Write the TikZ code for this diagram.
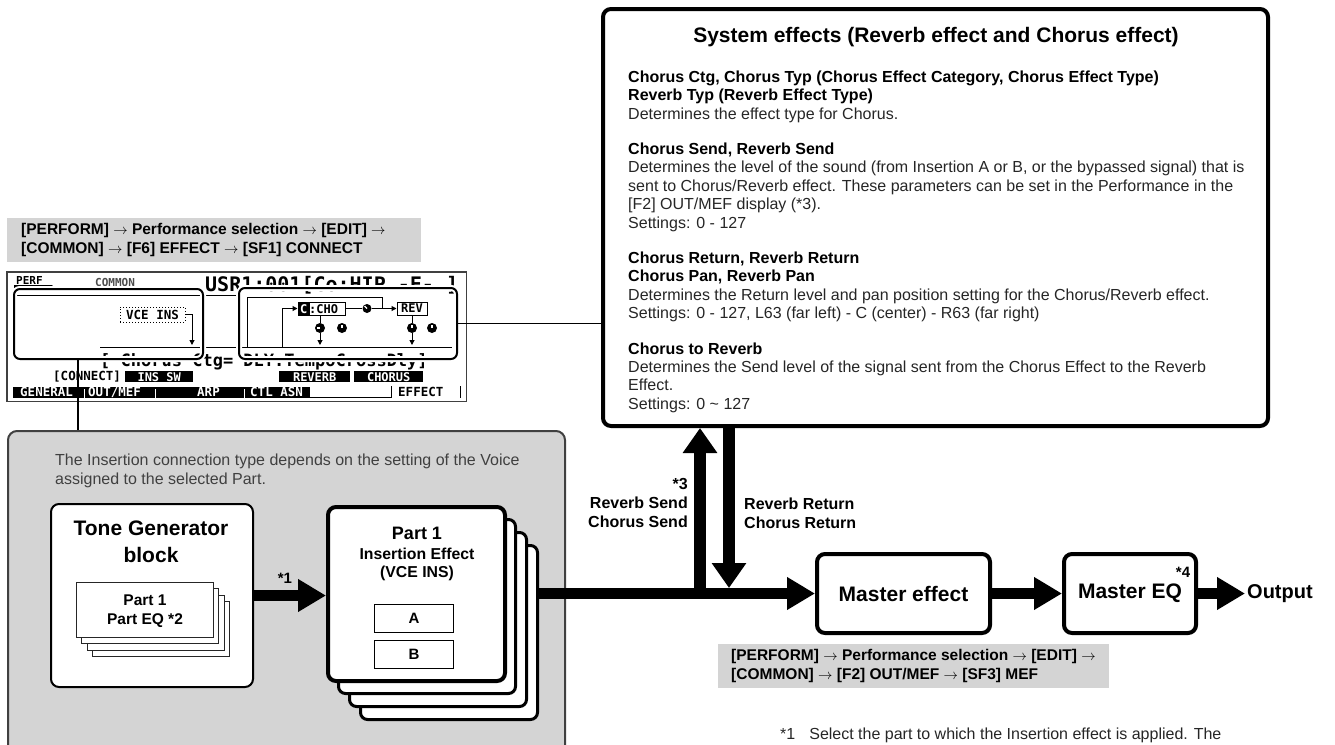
\documentclass[tikz,border=0pt]{standalone}
\usepackage{fontspec}
\setmainfont{Liberation Sans}
\setsansfont{Liberation Sans}
\newfontfamily\lcdfont{DejaVu Sans Mono}
\usetikzlibrary{arrows.meta,positioning,calc}

\newcommand\setfs[2]{\fontsize{#1}{#2}\selectfont}
\newcommand\hd[1]{\textbf{\textcolor{black}{#1}}}

\begin{document}
\begin{tikzpicture}[x=1pt, y=-1pt,
  font=\sffamily,
  lbl/.style={inner sep=0pt, anchor=base},
  graybar/.style={fill=black!17, inner sep=0pt, minimum height=44pt, anchor=north west},
  bartext/.style={inner sep=0pt, anchor=north west, align=left, font=\setfs{15.5}{19}\bfseries},
  fxbox/.style={draw, line width=4pt, rounded corners=8pt, fill=white, anchor=north west,
                minimum height=79pt, font=\setfs{21}{24}\bfseries},
  insback/.style={draw, line width=3pt, rounded corners=7pt, fill=white, anchor=north west,
                  minimum width=177pt, minimum height=174pt},
  eqcard/.style={draw=black!85, line width=1pt, fill=white, anchor=north west,
                 minimum width=137pt, minimum height=55pt},
  abox/.style={draw, line width=1.3pt, anchor=north west, minimum width=78.7pt, minimum height=27.7pt,
               font=\setfs{15}{18}\bfseries},
  fat/.style={line width=11pt, -{Triangle[length=28pt, width=31pt]}},
  fatv/.style={line width=12pt, -{Triangle[length=25pt, width=33pt]}},
  link/.style={line width=1.5pt},
  lcdsel/.style={draw, line width=2pt, rounded corners=6pt, anchor=north west,
                 preaction={draw=white, line width=6pt}},
  lcdtxt/.style={inner sep=0pt, anchor=base west, font=\lcdfont\bfseries\setfs{12.5}{14}},
  lcdinv/.style={fill=black, text=white, inner sep=0pt, anchor=north west,
                 minimum height=11pt, font=\lcdfont\bfseries\setfs{12}{13}},
  lcdarr/.style={line width=1pt, -{Triangle[length=5pt, width=5pt]}},
  knob/.style={circle, fill=black, inner sep=0pt, minimum size=10pt}
]
\useasboundingbox (0,0) rectangle (1335,744);
\clip (0,0) rectangle (1335,744);

\node[graybar, minimum width=414pt] (pathtop) at (7,218) {};
\node[bartext] at (21,221) {\rule{0pt}{13pt}[PERFORM] $\rightarrow$ Performance selection $\rightarrow$ [EDIT] $\rightarrow$\\{}[COMMON] $\rightarrow$ [F6] EFFECT $\rightarrow$ [SF1] CONNECT};

\node[draw=black!75, line width=2pt, rounded corners=9pt, fill=black!17, anchor=north west,
      minimum width=557pt, minimum height=340pt] (gbox) at (7,430) {};
\node[inner sep=0pt, anchor=north west, align=left, text=black!75, font=\setfs{16}{19.5}] at (55,452)
  {\rule{0pt}{13pt}The Insertion connection type depends on the setting of the Voice\\assigned to the selected Part.};

\node[draw, line width=4pt, rounded corners=8pt, fill=white, anchor=north west,
      minimum width=665pt, minimum height=417pt] (sys) at (601,7) {};
\node[lbl, font=\setfs{21}{24}\bfseries] at (936,42) {System effects (Reverb effect and Chorus effect)};
\node[inner sep=0pt, anchor=north west, align=left, text=black!85, font=\setfs{16}{18.4}] at (628,69)
  {\rule{0pt}{13pt}\hd{Chorus Ctg, Chorus Typ (Chorus Effect Category, Chorus Effect Type)}\\
   \hd{Reverb Typ (Reverb Effect Type)}\\
   Determines the effect type for Chorus.\\[17pt]
   \hd{Chorus Send, Reverb Send}\\
   Determines the level of the sound (from Insertion A or B, or the bypassed signal) that is\\
   sent to Chorus/Reverb effect. These parameters can be set in the Performance in the\\{}[F2] OUT/MEF display (*3).\\
   Settings: 0 - 127\\[17pt]
   \hd{Chorus Return, Reverb Return}\\
   \hd{Chorus Pan, Reverb Pan}\\
   Determines the Return level and pan position setting for the Chorus/Reverb effect.\\
   Settings: 0 - 127, L63 (far left) - C (center) - R63 (far right)\\[17pt]
   \hd{Chorus to Reverb}\\
   Determines the Send level of the signal sent from the Chorus Effect to the Reverb\\
   Effect.\\
   Settings: 0 \textasciitilde{} 127};

\node[draw=black!75, line width=1.5pt, fill=white, anchor=north west,
      minimum width=459.5pt, minimum height=129.5pt] (lcd) at (6,271) {};
\fill (14,285) -- (52,285) -- (58,291) -- (14,291) -- cycle;
\node[lcdtxt, font=\lcdfont\bfseries\setfs{11}{12}] at (16,284) {PERF};
\node[lcdtxt, text=black!70, font=\lcdfont\bfseries\setfs{11}{12}] at (95,286) {COMMON};
\node[lcdtxt, font=\lcdfont\bfseries\setfs{20}{22}] at (205,291) {USR1:001[Co:HIP -F- ]};
\draw[line width=1pt] (14,295) -- (236,295);
\node[lcdtxt, font=\lcdfont\bfseries\setfs{17}{19}] at (100,366) {[ Chorus  Ctg=   DLY:TempoCrossDly]};
\node[draw, dotted, line width=1pt, inner sep=0pt, minimum width=65pt, minimum height=15pt,
      font=\lcdfont\bfseries\setfs{12.5}{14}] (vce) at (152.5,314.5) {VCE INS};
\coordinate (vcedn) at (192,345);
\draw[lcdarr] (vce.east) -| (vcedn);
\draw[line width=1pt] (100,347) -- (452,347);

\node[draw, line width=1pt, inner sep=0pt, minimum width=47pt, minimum height=13pt] (cho) at (321.5,308.5) {};
\fill (cho.north west) rectangle ++(12,13);
\node[lcdtxt, text=white, font=\lcdfont\bfseries\setfs{12}{13}] at (300,313) {C};
\node[lcdtxt, font=\lcdfont\bfseries\setfs{12}{13}] at (309,313) {:CHO};
\node[draw, line width=1pt, inner sep=0pt, minimum width=30pt, minimum height=13pt,
      font=\lcdfont\bfseries\setfs{12}{13}] (rev) at (412,308.5) {REV};
\node[knob, minimum size=9pt] (k0) at (367,308.5) {};
\node[knob] (kc1) at (320,328) {};
\node[knob] (kc2) at (342,328) {};
\node[knob] (kr1) at (412,328) {};
\node[knob] (kr2) at (432,328) {};
\foreach \kn/\ang in {k0/225, kc1/180, kc2/270, kr1/270, kr2/270}
  \draw[white, line width=1.2pt] (\kn.center) -- ++(\ang:3.5);
\draw[line width=1pt] (cho.east) -- (k0);
\draw[lcdarr] (k0) -- (rev.west);
\draw[line width=1pt] (247,347) |- (382,297) -- (382,308.5);
\draw[lcdarr] (282,347) |- (cho.west);
\draw[line width=1pt] (kc1 |- cho.south) -- (kc1);
\draw[lcdarr] (kc1) -- (kc1 |- vcedn);
\draw[line width=1pt] (rev.south) -- (kr1);
\draw[lcdarr] (kr1) -- (kr1 |- vcedn);

\node[lcdtxt] at (53,380) {[CONNECT]};
\node[lcdinv, minimum width=68pt] at (125,371) {INS SW};
\node[lcdinv, minimum width=71pt] at (279,371) {REVERB};
\node[lcdinv, minimum width=69pt] at (354,371) {CHORUS};
\fill (13,387) rectangle (310,398);
\foreach \tx/\tab in {20/GENERAL, 88/{OUT/MEF}, 197/ARP, 250/{CTL ASN}}
  \node[lcdtxt, text=white, font=\lcdfont\bfseries\setfs{12.5}{13}] at (\tx,396.5) {\tab};
\foreach \sx in {84, 155, 244}
  \draw[white, line width=1pt] (\sx,389) -- (\sx,398);
\draw[line width=1pt] (310,397.5) -- (391,397.5) -- (391,386);
\node[lcdtxt] at (398,396.5) {EFFECT};
\draw[line width=1pt] (460,386) -- (460,397.5);

\node[lcdsel, minimum width=189pt, minimum height=70pt] (ctL) at (13,288) {};
\node[lcdsel, minimum width=218pt, minimum height=71pt] (ctR) at (238,287) {};
\coordinate (ctLfoot) at ($(ctL.south west)+(65,0)$);
\draw[link] (ctR.east) -- (ctR.east -| sys.west);
\draw[link] (ctLfoot) -- (ctLfoot |- gbox.north);

\node[draw, line width=2pt, rounded corners=8pt, fill=white, anchor=north west,
      minimum width=202pt, minimum height=183pt] (tg) at (50,503) {};
\node[lbl, font=\setfs{21}{24}\bfseries] at (151,535) {Tone Generator};
\node[lbl, font=\setfs{21}{24}\bfseries] at (151,562) {block};
\foreach \k in {3,2,1}
  \node[eqcard] (card\k) at (76+5.3*\k, 582+6.3*\k) {};
\node[eqcard] (card) at (76,582) {};
\node[lbl, font=\setfs{15.5}{18}\bfseries] at (145,605) {Part 1};
\node[lbl, font=\setfs{15.5}{18}\bfseries] at (145,624) {Part EQ *2};

\foreach \k in {3,2,1}
  \node[insback] (ins\k) at (326+11*\k, 505+13*\k) {};
\node[insback, line width=4pt, rounded corners=8pt] (ins) at (326,505) {};
\node[lbl, font=\setfs{18}{20}\bfseries] at (417,539) {Part 1};
\node[lbl, font=\setfs{15.8}{18}\bfseries] at (417,559) {Insertion Effect};
\node[lbl, font=\setfs{15.8}{18}\bfseries] at (417,577) {(VCE INS)};
\node[abox] (insa) at (374,604) {A};
\node[abox] (insb) at (374,640) {B};

\node[fxbox, minimum width=173pt] (mef) at (815,552) {Master effect};
\node[fxbox, minimum width=132pt] (meq) at (1062,552) {Master EQ};
\node[inner sep=2pt, anchor=west, font=\setfs{20}{24}\bfseries] (outp) at (1245,593.5) {Output};

\draw[fat] (tg.east) -- (tg.east -| ins.west);
\node[lbl, font=\setfs{15}{18}\bfseries] at (285,583) {*1};
\draw[fat] (ins3.east |- mef.west) -- (mef.west);
\coordinate (sendup) at (700,588);
\coordinate (retdn) at (729,588);
\draw[fatv] (sendup) -- (sendup |- sys.south);
\draw[fatv] (retdn |- sys.south) -- (retdn);
\draw[fat] (mef.east) -- (meq.west);
\draw[fat] (meq.east) -- (outp.west);
\node[inner sep=0pt, anchor=north east, align=right, font=\setfs{16}{19}\bfseries] at (688,476)
  {\rule{0pt}{13pt}*3\\Reverb Send\\Chorus Send};
\node[inner sep=0pt, anchor=north west, align=left, font=\setfs{16}{19}\bfseries] at (744,496)
  {\rule{0pt}{13pt}Reverb Return\\Chorus Return};
\node[lbl, font=\setfs{15}{18}\bfseries] at (1183,577) {*4};

\node[graybar, minimum width=391pt] (pathbot) at (718,644) {};
\node[bartext] at (731,647) {\rule{0pt}{13pt}[PERFORM] $\rightarrow$ Performance selection $\rightarrow$ [EDIT] $\rightarrow$\\{}[COMMON] $\rightarrow$ [F2] OUT/MEF $\rightarrow$ [SF3] MEF};

\node[lbl, anchor=base west, text=black!85, font=\setfs{16}{19}] at (780,739)
  {*1\hspace{14pt}Select the part to which the Insertion effect is applied. The};
\end{tikzpicture}
\end{document}
